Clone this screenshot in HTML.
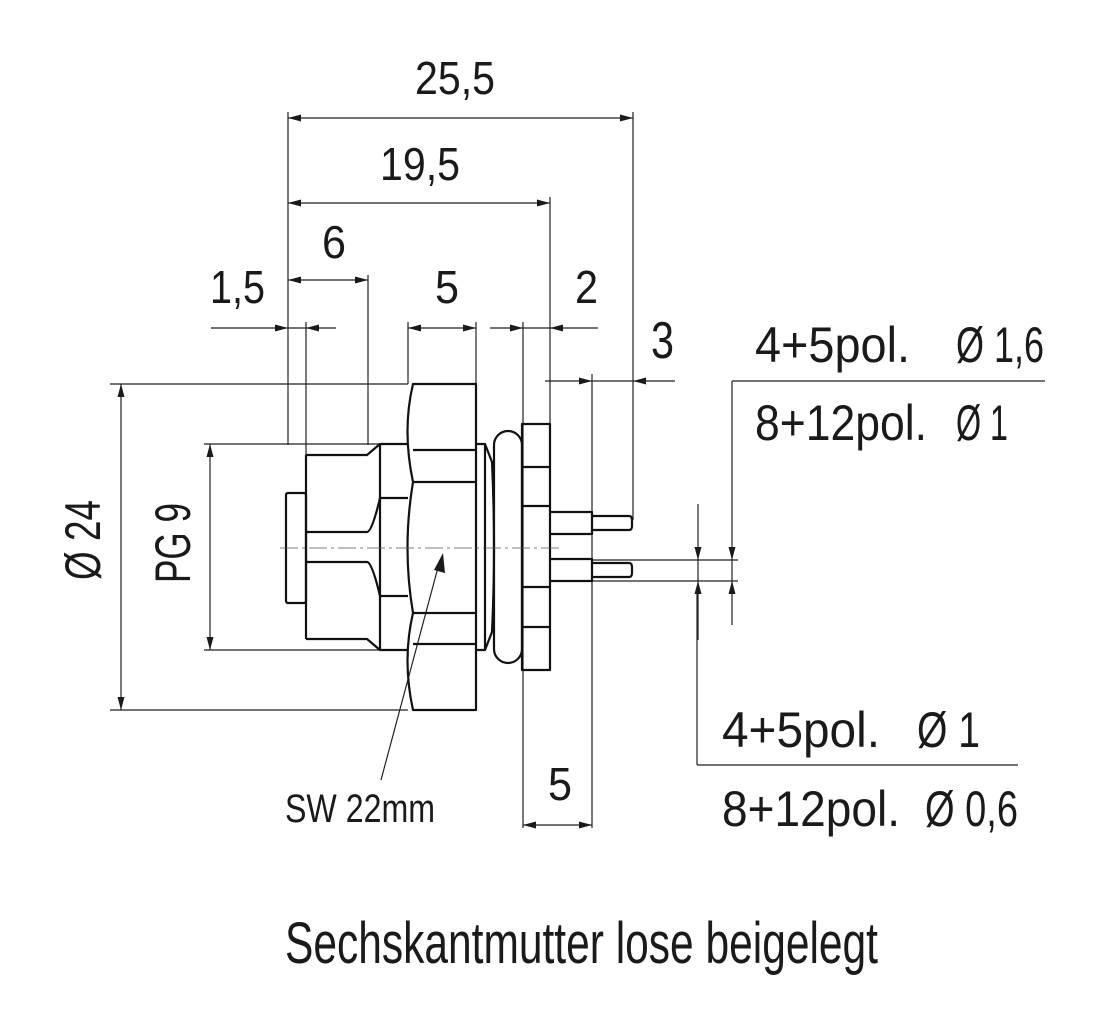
<!DOCTYPE html>
<html><head><meta charset="utf-8"><style>
html,body{margin:0;padding:0;background:#fff;}
svg{display:block;}
text{font-family:"Liberation Sans",sans-serif;fill:#1a1a1a;}
</style></head><body>
<svg width="1095" height="1028" viewBox="0 0 1095 1028" xmlns="http://www.w3.org/2000/svg">
<g fill="none" stroke="#222" stroke-width="1.2">
<line x1="288" y1="112" x2="288" y2="445"/>
<line x1="633" y1="112" x2="633" y2="520"/>
<line x1="550" y1="197" x2="550" y2="425"/>
<line x1="368" y1="275" x2="368" y2="445"/>
<line x1="306" y1="322" x2="306" y2="493"/>
<line x1="408" y1="322" x2="408" y2="384"/>
<line x1="476" y1="322" x2="476" y2="384"/>
<line x1="523" y1="322" x2="523" y2="828"/>
<line x1="592" y1="374" x2="592" y2="828"/>
<line x1="110" y1="384" x2="408" y2="384"/>
<line x1="110" y1="710" x2="408" y2="710"/>
<line x1="204" y1="444" x2="380" y2="444"/>
<line x1="204" y1="650" x2="380" y2="650"/>
<line x1="288" y1="118" x2="633" y2="118"/>
<line x1="288" y1="203" x2="550" y2="203"/>
<line x1="288" y1="280" x2="368" y2="280"/>
<line x1="211" y1="328" x2="336" y2="328"/>
<line x1="408" y1="328" x2="476" y2="328"/>
<line x1="490" y1="328" x2="598" y2="328"/>
<line x1="545" y1="381" x2="675" y2="381"/>
<line x1="121" y1="384" x2="121" y2="710"/>
<line x1="210" y1="444" x2="210" y2="650"/>
<line x1="523" y1="825" x2="592" y2="825"/>
<line x1="698" y1="504" x2="698" y2="640"/>
<line x1="732" y1="381" x2="732" y2="625"/>
<line x1="732" y1="381" x2="1045" y2="381"/>
<line x1="697" y1="590" x2="697" y2="765"/>
<line x1="697" y1="765" x2="1018" y2="765"/>
<line x1="592" y1="560" x2="738" y2="560"/>
<line x1="592" y1="581" x2="738" y2="581"/>
<line x1="381" y1="780" x2="440" y2="560"/>
</g>
<g fill="#1a1a1a">
<polygon points="288,118 301,114.5 301,121.5"/><polygon points="633,118 620,114.5 620,121.5"/>
<polygon points="288,203 301,199.5 301,206.5"/><polygon points="550,203 537,199.5 537,206.5"/>
<polygon points="288,280 301,276.5 301,283.5"/><polygon points="368,280 355,276.5 355,283.5"/>
<polygon points="288,328 275,324.5 275,331.5"/><polygon points="306,328 319,324.5 319,331.5"/>
<polygon points="408,328 421,324.5 421,331.5"/><polygon points="476,328 463,324.5 463,331.5"/>
<polygon points="523,328 510,324.5 510,331.5"/><polygon points="550,328 563,324.5 563,331.5"/>
<polygon points="592,381 579,377.5 579,384.5"/><polygon points="633,381 646,377.5 646,384.5"/>
<polygon points="121,384 117.5,397 124.5,397"/><polygon points="121,710 117.5,697 124.5,697"/>
<polygon points="210,444 206.5,457 213.5,457"/><polygon points="210,650 206.5,637 213.5,637"/>
<polygon points="523,825 536,821.5 536,828.5"/><polygon points="592,825 579,821.5 579,828.5"/>
<polygon points="698,560 694.5,547 701.5,547"/><polygon points="698,581 694.5,594 701.5,594"/>
<polygon points="732,560 728.5,547 735.5,547"/><polygon points="732,581 728.5,594 735.5,594"/>
<polygon points="443,553 434,570 445,573"/>
</g>
<g fill="none" stroke="#111" stroke-width="2.2" stroke-linejoin="round">
<rect x="286" y="493" width="20" height="110" rx="2"/>
<path d="M306,455 H367 L380,444 H408 M306,639 H367 L380,650 H408 M306,455 V639"/>
<path d="M306,532 H367 Q372,532 380,498 M306,562 H367 Q372,562 380,596"/>
<path d="M380,444 V650 M380,498 H408 M380,596 H408"/>
<path d="M413,384 H476 V710 H413 Q402,660 413,613 Q402,548 413,482 Q402,430 413,384 Z"/>
<path d="M413,450 H476 M413,482 H476 M413,613 H476 M413,644 H476"/>
<path d="M476,444 H485 L492,462 Q496,548 492,632 L485,650 H476 M485,444 V650 M485,498 V596"/>
<rect x="494" y="431" width="28" height="232" rx="14"/>
<rect x="522" y="424" width="28" height="246"/>
<path d="M522,467 H550 M522,506 H550 M522,587 H550 M522,627 H550"/>
<path d="M550,512 H592 V534 H550 M592,516 H629 Q632,516 632,520 V526 Q632,530 629,530 H592"/>
<path d="M550,559 H592 V581 H550 M592,563 H629 Q632,563 632,567 V573 Q632,577 629,577 H592"/>
</g>
<line x1="280" y1="548" x2="560" y2="548" stroke="#555" stroke-width="0.8" stroke-dasharray="18,4,3,4"/>
<text x="415" y="94" font-size="46" textLength="80" lengthAdjust="spacingAndGlyphs">25,5</text>
<text x="380" y="180" font-size="46" textLength="80" lengthAdjust="spacingAndGlyphs">19,5</text>
<text x="322" y="258" font-size="46" textLength="24" lengthAdjust="spacingAndGlyphs">6</text>
<text x="210" y="303" font-size="46" textLength="55" lengthAdjust="spacingAndGlyphs">1,5</text>
<text x="435" y="303" font-size="46" textLength="24" lengthAdjust="spacingAndGlyphs">5</text>
<text x="575" y="303" font-size="46" textLength="23" lengthAdjust="spacingAndGlyphs">2</text>
<text x="651" y="358" font-size="52" textLength="23" lengthAdjust="spacingAndGlyphs">3</text>
<text x="548" y="800" font-size="46" textLength="24" lengthAdjust="spacingAndGlyphs">5</text>
<text x="755" y="362" font-size="50" textLength="155" lengthAdjust="spacingAndGlyphs">4+5pol.</text>
<text x="956" y="362" font-size="50" textLength="88" lengthAdjust="spacingAndGlyphs">Ø 1,6</text>
<text x="755" y="440" font-size="50" textLength="172" lengthAdjust="spacingAndGlyphs">8+12pol.</text>
<text x="956" y="440" font-size="50" textLength="52" lengthAdjust="spacingAndGlyphs">Ø 1</text>
<text x="722" y="747" font-size="50" textLength="158" lengthAdjust="spacingAndGlyphs">4+5pol.</text>
<text x="917" y="747" font-size="50" textLength="63" lengthAdjust="spacingAndGlyphs">Ø 1</text>
<text x="722" y="826" font-size="50" textLength="178" lengthAdjust="spacingAndGlyphs">8+12pol.</text>
<text x="925" y="826" font-size="50" textLength="93" lengthAdjust="spacingAndGlyphs">Ø 0,6</text>
<text x="285" y="822" font-size="40" textLength="150" lengthAdjust="spacingAndGlyphs">SW 22mm</text>
<text x="285" y="963" font-size="58" textLength="593" lengthAdjust="spacingAndGlyphs">Sechskantmutter lose beigelegt</text>
<text transform="translate(100,580) rotate(-90)" font-size="50" textLength="80" lengthAdjust="spacingAndGlyphs">Ø 24</text>
<text transform="translate(190,583) rotate(-90)" font-size="50" textLength="80" lengthAdjust="spacingAndGlyphs">PG 9</text>
</svg>
</body></html>
